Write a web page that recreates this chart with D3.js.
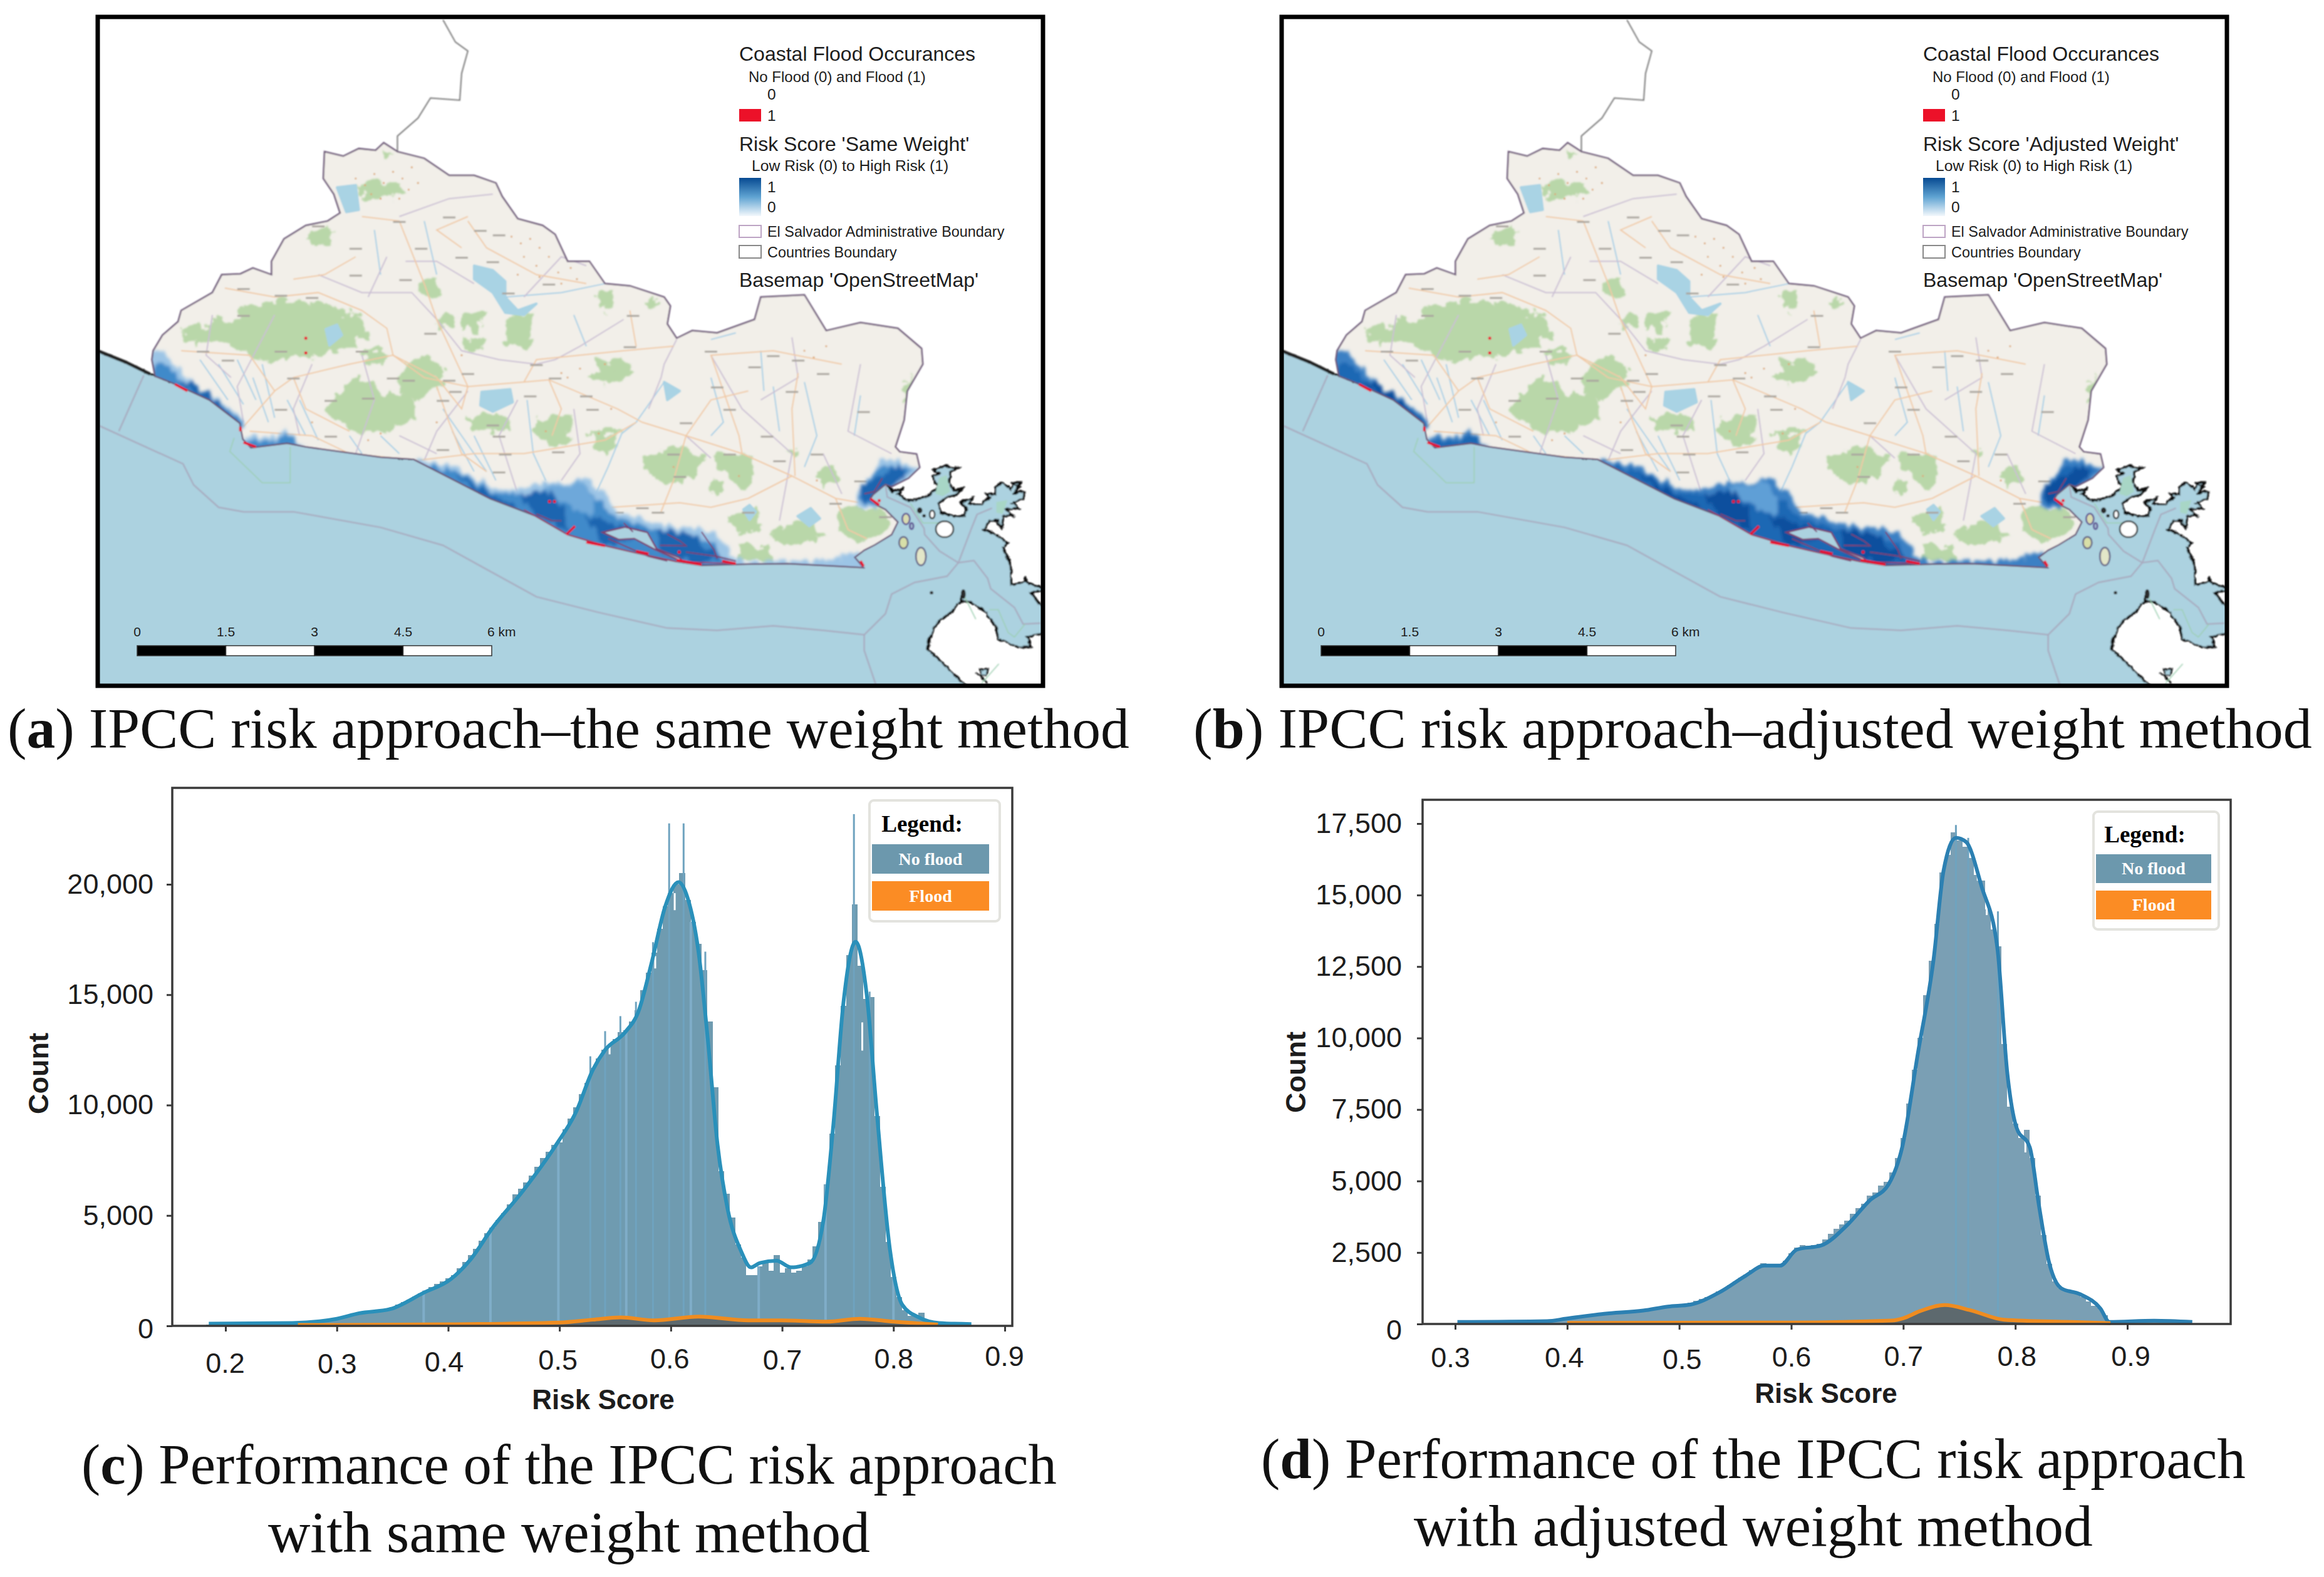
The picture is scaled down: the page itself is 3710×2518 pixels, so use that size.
<!DOCTYPE html>
<html>
<head>
<meta charset="utf-8">
<script src="https://d3js.org/d3.v7.min.js"></script>
<style>
  html, body { margin: 0; background: #fff; }
  svg { display: block; }
  text { font-family: "Liberation Sans", sans-serif; fill: #1d1d1d; }
</style>
</head>
<body>
<div id="chart"></div>
<script>
// ---- map data, in map units (0-1568 across, 0-1568 down the stretched sheet) ----
var oceanShape = [[-40,745],[19,772],[60,795],[100,822],[500,1010],[1280,1069],[1293,1085],[1310,1076],[1300,1090],[1318,1106],[1333,1101],[1353,1092],[1363,1073],[1355,1050],[1367,1045],[1358,1036],[1375,1027],[1382,1029],[1397,1031],[1384,1041],[1382,1064],[1390,1083],[1404,1078],[1394,1092],[1380,1097],[1365,1111],[1370,1132],[1394,1141],[1407,1139],[1410,1122],[1400,1108],[1420,1099],[1414,1113],[1434,1113],[1447,1097],[1442,1090],[1456,1092],[1456,1076],[1467,1064],[1481,1080],[1487,1064],[1496,1064],[1487,1087],[1504,1085],[1501,1101],[1484,1111],[1494,1122],[1474,1125],[1484,1139],[1469,1139],[1467,1167],[1461,1157],[1461,1150],[1447,1150],[1439,1169],[1461,1185],[1476,1199],[1469,1209],[1481,1251],[1482,1293],[1504,1286],[1504,1274],[1506,1288],[1529,1298],[1545,1302],[1514,1311],[1529,1339],[1560,1345],[1560,1395],[1507,1409],[1514,1433],[1494,1433],[1461,1414],[1457,1386],[1440,1353],[1414,1330],[1400,1330],[1405,1307],[1400,1330],[1387,1353],[1363,1377],[1350,1414],[1348,1437],[1440,1560],[-40,1560]];
var landShape = [[108,827],[103,790],[105,770],[120,735],[145,705],[150,680],[200,640],[215,600],[245,598],[265,585],[295,600],[295,570],[315,520],[350,490],[385,480],[405,462],[395,420],[378,385],[380,325],[410,335],[435,318],[462,322],[475,305],[497,325],[540,340],[580,378],[620,378],[655,395],[665,425],[690,475],[730,490],[750,510],[770,570],[805,570],[830,620],[870,625],[925,650],[935,670],[930,710],[945,742],[970,725],[1010,730],[1070,700],[1080,650],[1150,645],[1185,725],[1240,707],[1300,720],[1338,765],[1340,800],[1315,860],[1310,925],[1296,985],[1303,996],[1330,1001],[1335,1031],[1317,1055],[1290,1074],[1280,1069],[1260,1092],[1256,1101],[1266,1115],[1280,1125],[1300,1153],[1290,1181],[1263,1204],[1246,1216],[1231,1232],[1245,1255],[1206,1252],[1123,1246],[1060,1247],[985,1250],[944,1241],[880,1222],[831,1206],[770,1181],[718,1139],[646,1101],[523,1013],[470,1008],[350,985],[320,977],[262,987],[249,968],[244,932],[195,880],[139,844]];
var riverNorth = [[497,325],[497,290],[530,250],[550,205],[597,210],[600,150],[610,100],[590,80],[570,30]];
var westShore = [[19,772],[60,795],[100,822]];
var maritimeLines = [
  [[19,938],[153,1023],[170,1070],[210,1120],[250,1130],[330,1130],[470,1165],[570,1205],[720,1320],[820,1355],[930,1390],[1010,1395],[1100,1385],[1180,1395],[1246,1405]],
  [[1246,1405],[1280,1358],[1290,1314],[1327,1288],[1379,1274],[1397,1244]],
  [[1280,1069],[1283,1097],[1320,1120],[1342,1167],[1343,1181],[1367,1218],[1397,1244],[1422,1239],[1444,1279],[1449,1302],[1487,1344],[1501,1381],[1529,1379]],
  [[1397,1244],[1417,1171],[1427,1136],[1451,1122]],
  [[1246,1405],[1246,1440],[1265,1518]],
  [[50,950],[90,825]]
];
var reserveLines = [
  [[235,965],[228,995],[280,1065],[325,1065],[325,985]],
  [[1320,1111],[1340,1155],[1365,1155]],
  [[1447,1349],[1461,1349],[1477,1400],[1487,1410],[1504,1381]],
  [[1405,1314],[1425,1370]],
  [[1434,1514],[1462,1470]]
];
var gulfGreens = [[[1366,1055],[1378,1048],[1384,1085],[1372,1095],[1360,1090]],[[1458,1108],[1476,1104],[1468,1135],[1458,1132]]];
var smallLake = [[1432,1482],[1444,1480],[1442,1497],[1434,1496]];
var shoreSquiggles = [[[1425,1490],[1437,1503],[1444,1514]],[[1481,1064],[1496,1075],[1484,1090]]];
var islands = [
  [1375,1169,14,18,"#fff","#222"],[1355,1136,4,9,"#fff","#222"],[1335,1127,3,5,"#333","#222"],[1342,1139,1.5,2,"#333","#222"],
  [1313,1146,6,12,"#d9dcb0","#5a4a90"],[1322,1162,3,7,"#9db6cc","#5a4a90"],
  [1309,1199,7,13,"#d8dfa8","#5f5a80"],[1337,1230,8,20,"#e3e6c8","#5f5a80"],[1354,1311,1.5,2,"#333","#333"],[1405,1314,2.5,9,"#333","#222"]
];
var greens = [
  [[150,720],[220,700],[270,665],[340,655],[400,680],[440,690],[445,740],[400,770],[350,790],[280,790],[230,760],[160,750]],
  [[400,860],[440,830],[480,860],[520,870],[530,910],[490,950],[420,950],[380,900]],
  [[500,810],[530,780],[565,800],[565,850],[525,880],[500,860]],
  [[610,920],[650,910],[680,920],[670,950],[620,950]],
  [[720,915],[770,920],[775,975],[740,980],[715,950]],
  [[805,952],[857,952],[850,985],[832,1003],[812,985]],
  [[893,1003],[950,985],[990,1000],[980,1040],[930,1078],[895,1030]],
  [[1005,1003],[1067,1003],[1067,1060],[1050,1078],[1030,1050]],
  [[1170,1036],[1200,1031],[1206,1065],[1175,1068]],
  [[1103,1170],[1150,1148],[1190,1180],[1130,1213],[1100,1190]],
  [[1200,1130],[1270,1120],[1290,1160],[1240,1200],[1210,1180]],
  [[680,690],[715,690],[705,770],[670,750]],
  [[600,690],[640,680],[625,730],[600,725]],
  [[820,640],[845,635],[838,680],[820,680]],
  [[800,830],[860,790],[880,815],[830,850]],
  [[535,620],[565,610],[560,645],[535,640]],
  [[1030,1140],[1070,1120],[1080,1160],[1040,1180]],
  [[430,395],[500,390],[505,420],[440,435]],
  [[465,320],[497,325],[480,338]],
  [[1305,860],[1322,820],[1312,885]],
  [[900,650],[920,655],[915,670],[900,670]],
  [[1046,1209],[1098,1212],[1100,1240],[1048,1242]],
  [[350,515],[385,490],[392,520],[360,535]],
  [[600,740],[640,745],[630,770],[605,765]],
  [[815,790],[860,785],[855,810],[820,815]],
  [[1005,1060],[1020,1065],[1015,1090],[1000,1085]],
  [[1120,990],[1140,990],[1135,1010],[1122,1008]],
  [[560,700],[590,690],[585,720],[565,725]],
  [[440,770],[480,770],[470,800],[445,800]],
  [[718,1150],[730,1150],[730,1170],[720,1170]]
];
var lakes = [
  [[400,405],[430,400],[435,455],[415,460]],
  [[620,580],[650,590],[670,615],[670,650],[690,680],[720,665],[700,690],[670,685],[650,640],[620,610]],
  [[632,862],[678,856],[682,885],[650,906],[630,892]],
  [[925,840],[950,860],[930,880]],
  [[1139,1140],[1160,1122],[1175,1145],[1158,1162]],
  [[1052,1125],[1062,1115],[1072,1130],[1062,1148]],
  [[382,722],[400,712],[408,735],[388,758]]
];
var roads = [
  [[250,940],[300,860],[330,830],[420,800],[490,780],[540,830],[610,850],[700,840],[740,835],[850,900],[890,930],[960,960],[1050,1000],[1130,1050],[1200,1100],[1240,1110]],
  [[260,950],[360,960],[420,1000],[530,1015],[620,1000],[700,1000],[830,970],[880,930]],
  [[490,780],[480,720],[440,680],[370,640],[300,650],[220,630]],
  [[560,850],[580,930],[600,1000],[640,1040]],
  [[610,850],[560,700],[540,620],[500,480],[440,470]],
  [[1050,1000],[1045,960],[1000,780],[1100,770],[1210,800]],
  [[840,1120],[950,1110],[1000,1120],[1060,1100],[1130,1050]],
  [[700,840],[720,790],[860,770],[940,760]],
  [[300,860],[260,780],[150,770]],
  [[610,480],[640,540],[720,600],[800,620]],
  [[1135,1050],[1130,900],[1140,820]],
  [[490,780],[560,830],[600,900],[610,850]],
  [[330,830],[350,900],[420,950]],
  [[740,835],[760,900],[745,960]],
  [[960,960],[1000,880],[1060,860]],
  [[1200,1100],[1220,1170],[1250,1190]],
  [[960,960],[940,1060],[920,1130]],
  [[430,560],[380,600],[330,610]],
  [[600,540],[560,500],[610,470]],
  [[870,680],[880,760]]
];
var adminLines = [
  [[945,745],[925,800],[920,830],[900,900]],
  [[750,790],[720,800],[660,790],[600,770],[560,700],[520,640],[440,640],[370,600]],
  [[300,690],[240,850],[250,930]],
  [[440,780],[460,880],[430,1000]],
  [[610,860],[560,950],[540,1015]],
  [[690,880],[660,960],[690,1090]],
  [[700,650],[760,560],[800,580]],
  [[1000,780],[1050,900],[1130,1000],[1110,1150]],
  [[500,470],[580,430],[650,420]],
  [[780,900],[790,1000],[760,1060]],
  [[1240,800],[1220,950],[1290,1000]],
  [[200,690],[190,780],[230,830]],
  [[360,800],[330,900],[340,960]],
  [[480,560],[450,650]],
  [[620,620],[560,570],[510,570]],
  [[860,700],[790,760],[750,790]],
  [[1130,740],[1140,830],[1080,880]],
  [[1180,1000],[1210,1090]],
  [[960,960],[1000,1010]],
  [[560,1000],[500,960]]
];
var rivers = [
  [[925,840],[900,890],[880,930],[857,955],[835,1030],[815,1090],[785,1150],[772,1185]],
  [[670,650],[760,640],[830,620]],
  [[1000,745],[1040,730]],
  [[1000,830],[1020,930],[1000,960]],
  [[640,1040],[600,960],[570,900]],
  [[280,800],[300,920]],
  [[1150,840],[1170,960],[1150,1030]],
  [[180,790],[225,880]],
  [[320,880],[350,960]],
  [[470,960],[500,1000]],
  [[540,480],[560,600]],
  [[210,800],[250,890]],
  [[240,790],[270,880]],
  [[265,830],[290,930]],
  [[340,880],[370,970]],
  [[420,960],[440,1000]],
  [[585,950],[620,1040]],
  [[620,960],[655,1060]],
  [[705,880],[715,1000],[735,1060]],
  [[1100,850],[1110,950]],
  [[1240,870],[1230,960]],
  [[1080,770],[1085,860]],
  [[780,690],[800,760]],
  [[460,500],[470,600]]
];
// the sea side of these runs past the coast, the land clip trims it
var riskOuter = [
  [[105,774],[123,774],[149,813],[169,852],[205,874],[246,918],[255,940],[240,950],[185,895],[130,860],[95,840]],
  [[251,962],[308,962],[318,943],[328,960],[350,990],[318,1000],[255,1000]],
  [[523,1013],[569,1022],[595,1029],[605,1045],[641,1069],[677,1085],[713,1066],[780,1064],[808,1052],[813,1069],[831,1092],[846,1125],[893,1153],[934,1162],[975,1167],[1006,1181],[1026,1199],[1026,1227],[1057,1246],[1057,1265],[940,1265],[820,1225],[755,1200],[705,1155],[640,1120],[515,1030]],
  [[1270,1015],[1290,1013],[1303,1022],[1335,1033],[1317,1060],[1295,1085],[1265,1120],[1235,1125],[1236,1097],[1262,1040]],
  [[1210,1227],[1229,1220],[1250,1232],[1255,1265],[1205,1265]],
  [[1060,1240],[1127,1240],[1205,1236],[1210,1262],[1060,1262]]
];
var riskMiddle = [
  [[112,800],[130,805],[160,845],[210,885],[250,930],[240,950],[185,895],[130,860],[100,840]],
  [[255,972],[312,970],[320,952],[345,985],[318,1000],[255,1000]],
  [[545,1025],[600,1045],[650,1085],[700,1095],[740,1078],[800,1078],[815,1095],[835,1130],[890,1165],[960,1178],[1000,1195],[1018,1230],[1050,1265],[940,1265],[820,1225],[755,1200],[705,1155],[640,1120],[530,1032]],
  [[1262,1040],[1285,1025],[1325,1036],[1290,1070],[1260,1115],[1238,1110]]
];
var riskDark = [
  [[150,840],[180,850],[240,925],[240,945],[185,890]],
  [[590,1045],[640,1085],[690,1120],[705,1155],[640,1120]],
  [[690,1090],[745,1085],[760,1120],[775,1175],[720,1140]],
  [[800,1140],[860,1160],[900,1180],[830,1210]],
  [[910,1170],[960,1175],[1020,1230],[975,1250],[920,1215]],
  [[1271,1052],[1290,1031],[1310,1031],[1313,1048],[1290,1069],[1262,1105],[1242,1106],[1245,1070]]
];
var riskLight = [[735,1072],[790,1066],[815,1100],[810,1135],[780,1120],[745,1100]];
var bayWater = [[826,1176],[862,1164],[898,1176],[913,1213],[949,1232],[957,1244],[939,1232],[908,1213],[877,1190],[852,1192]];
var creeks = [[[918,1205],[960,1206],[950,1195],[930,1180]],[[960,1220],[1010,1230],[1040,1240]],[[835,1190],[900,1230],[930,1240]],[[720,1135],[745,1150],[760,1150]],[[860,1155],[875,1175]],[[985,1175],[1005,1215],[1010,1235]],[[1246,1090],[1262,1085],[1275,1055]]];
var floodLines = [[[768,1181],[782,1162]],[[140,845],[160,860]],[[245,940],[245,950]],[[250,975],[270,985]],[[800,1198],[830,1206]],[[880,1218],[900,1224]],[[945,1238],[985,1248]],[[1018,1240],[1040,1246]],[[1240,1240],[1245,1252]],[[1256,1101],[1270,1115]]];
var floodCoast = [[700,1125],[718,1139],[770,1181],[831,1206],[880,1222],[944,1241],[1040,1246]];
var floodDots = [[741,1107],[749,1107],[949,1220],[350,742],[350,775],[1270,1105]];
var placeMarks = [[240,690],[300,645],[350,650],[490,480],[420,540],[525,540],[650,510],[730,620],[865,690],[990,770],[1130,790],[1060,805],[1235,905],[950,930],[1020,900],[1100,1015],[1190,1110],[1050,1130],[905,1130],[745,995],[650,1040],[650,960],[560,990],[505,835],[430,770],[320,830],[175,770],[215,790],[1170,820],[800,900],[790,870],[700,870],[440,875],[380,880],[300,770],[240,630],[590,560],[665,640],[860,760],[1000,850],[360,490],[420,600],[500,610],[620,500],[570,470],[640,570],[540,730],[600,820],[560,880],[580,860],[570,835],[640,935],[660,1000],[480,830],[380,960],[300,900],[840,1130],[880,1120],[930,1000],[940,1050],[1090,780],[1120,860],[1160,1000],[1240,1100],[1270,1140],[1230,1060],[1020,1000],[1080,960],[740,830],[710,800]];
var hillDots = [[430,385],[445,400],[460,375],[475,395],[490,370],[505,385],[520,360],[530,395],[515,410],[470,430],[455,420],[500,430],[680,515],[695,530],[710,520],[725,540],[740,560],[700,560],[720,580],[755,595],[775,585],[785,610],[690,600],[725,605],[760,620],[820,955],[840,900],[1150,770],[1165,785],[1185,760],[560,930],[600,780],[770,830],[790,810],[420,1000],[450,970],[470,955],[360,930],[760,820],[830,800],[735,950],[940,1030],[1045,1050],[1170,1060]];

// ---- scale bar ----
var scaleStops = [0, 1.5, 3, 4.5, 6];
var scaleLabels = ["0", "1.5", "3", "4.5", "6 km"];

// ---- panel (c) ----
var xTicksC = [0.2, 0.3, 0.4, 0.5, 0.6, 0.7, 0.8, 0.9];
var yTicksC = [0, 5000, 10000, 15000, 20000];
var binStartC = 0.185;
var barsC = [60,60,70,70,70,75,75,80,80,90,95,100,105,110,120,130,140,155,170,190,210,240,280,
  320,370,450,540,600,640,680,720,740,780,850,960,1080,1200,1340,1480,1600,1750,1900,2020,2150,
  2300,2600,2900,3200,3500,3850,4200,4450,4800,5100,5500,5950,6200,6500,6800,7200,7600,7900,8200,
  8300,8900,9400,9900,10500,11000,11700,12100,12500,12700,13000,13300,13400,13800,14300,15200,16000,16900,
  18000,19000,19600,20000,20500,19300,18300,17300,16100,13800,10800,7000,6000,4900,3700,3100,2300,2300,2700,2900,2500,3200,2400,2600,2400,2500,2700,3000,
  3600,4700,6400,8700,11800,14500,16800,19100,16300,14800,14900,9500,6300,3800,2200,1300,700,450,420,600,250,180,130,110,100,90,80,70];
var spikesC = [[0.5985,22760],[0.6115,22760],[0.7645,23180],[0.5277,12210],[0.541,13350],[0.5547,14030],[0.5687,14680],[0.584,17380],[0.631,16950],[0.7786,15140]];
var stripesC = [0.378,0.438,0.499,0.56,0.618,0.679,0.739,0.80];
var notchesC = [[0.6035,19600,18830],[0.772,13745,12470],[0.586,16750,16190],[0.545,13000,12300],[0.525,12300,11600]];
var kdeC = [[0.185,100],[0.26,130],[0.30,320],[0.32,570],[0.348,760],[0.378,1500],[0.402,2100],[0.42,3000],[0.44,4450],[0.467,6100],[0.497,8200],[0.515,9700],[0.53,11600],[0.541,12500],[0.559,13300],[0.571,14250],[0.583,16500],[0.595,19000],[0.607,20100],[0.615,19400],[0.625,16900],[0.633,13100],[0.642,8200],[0.651,5300],[0.663,3400],[0.672,2650],[0.68,2850],[0.695,2950],[0.708,2650],[0.725,2850],[0.737,4750],[0.746,9100],[0.755,14600],[0.766,17400],[0.776,15000],[0.785,9700],[0.797,3400],[0.808,950],[0.823,380],[0.841,130],[0.87,80]];
var floodKdeC = [[0.265,40],[0.4,70],[0.5,150],[0.53,280],[0.555,380],[0.585,250],[0.625,420],[0.67,250],[0.7,250],[0.74,190],[0.77,320],[0.8,190],[0.84,60]];

// ---- panel (d) ----
var xTicksD = [0.3, 0.4, 0.5, 0.6, 0.7, 0.8, 0.9];
var yTicksD = [0, 2500, 5000, 7500, 10000, 12500, 15000, 17500];
var binStartD = 0.305;
var barsD = [60,60,65,65,65,70,70,70,75,75,80,80,85,90,95,100,120,140,170,195,220,250,270,290,320,350,370,380,400,410,430,450,470,490,520,560,600,640,670,680,700,740,800,880,950,1000,1130,1230,1360,1500,1620,1740,1880,1970,2120,2050,2030,2060,2220,2480,2680,2750,2740,2770,2800,2950,3150,3320,3480,3620,3850,4050,4200,4480,4600,4850,4980,5300,5800,6500,7700,8900,10000,11500,12700,14000,15800,16400,17200,16900,16700,16300,15700,15500,14500,13800,13200,9800,7600,7000,6500,6800,5800,4500,3100,2100,1500,1250,1180,1150,1060,950,780,640,560,300,60,60,60,70,80,90,110,120,120,110,100,90,90,80,70];
var spikesD = [[0.747,17450],[0.7845,14430],[0.758,17000]];
var notchesD = [[0.7665,16400,15500],[0.7745,15300,14300],[0.8,7700,7200],[0.809,6500,6000]];
var kdeD = [[0.302,70],[0.382,100],[0.399,185],[0.433,356],[0.468,470],[0.49,610],[0.51,680],[0.536,1110],[0.559,1680],[0.576,2040],[0.59,2040],[0.605,2600],[0.627,2750],[0.65,3460],[0.67,4320],[0.687,4890],[0.699,6170],[0.713,9450],[0.727,12730],[0.736,15860],[0.747,17000],[0.756,16860],[0.77,15290],[0.784,13150],[0.793,8730],[0.801,6880],[0.813,6170],[0.821,4180],[0.83,2180],[0.841,1250],[0.858,1040],[0.876,540],[0.884,70],[0.924,115],[0.958,70]];
var floodKdeD = [[0.4,40],[0.6,50],[0.69,120],[0.7,200],[0.715,450],[0.737,660],[0.76,480],[0.79,150],[0.85,70],[0.885,30]];

var width = 3710, height = 2518;
var svg = d3.select("#chart").append("svg").attr("width", width).attr("height", height);
var defs = svg.append("defs");
defs.append("filter").attr("id", "mapBlur").append("feGaussianBlur").attr("stdDeviation", 1.1);

// rough edges for the raster-looking layers
function roughFilter(id, freq, scale, blur) {
  var f = defs.append("filter").attr("id", id).attr("x", "-5%").attr("y", "-5%").attr("width", "110%").attr("height", "110%");
  f.append("feTurbulence").attr("type", "fractalNoise").attr("baseFrequency", freq).attr("numOctaves", 3).attr("seed", 4).attr("result", "n");
  f.append("feDisplacementMap").attr("in", "SourceGraphic").attr("in2", "n").attr("scale", scale).attr("xChannelSelector", "R").attr("yChannelSelector", "G").attr("result", "d");
  f.append("feGaussianBlur").attr("in", "d").attr("stdDeviation", blur);
}
roughFilter("riskRough", "0.09 0.02", 22, 2.4);
roughFilter("greenRough", "0.05 0.05", 30, 1);
roughFilter("shoreRough", "0.12 0.12", 6, 0.7);

var ramp = defs.append("linearGradient").attr("id", "riskRamp").attr("x1", 0).attr("x2", 0).attr("y1", 0).attr("y2", 1);
ramp.append("stop").attr("offset", "0%").attr("stop-color", "#074a92");
ramp.append("stop").attr("offset", "50%").attr("stop-color", "#5fa3d2");
ramp.append("stop").attr("offset", "100%").attr("stop-color", "#f3f8fc");
defs.append("clipPath").attr("id", "mapClip").append("rect").attr("x", 159).attr("y", 31).attr("width", 1503).attr("height", 1061);

var mapX = d3.scaleLinear().domain([0, 1568]).range([140, 1700]);
var mapY = d3.scaleLinear().domain([0, 1568]).range([10, 1130]);
var mapLine = d3.line().x(function (d) { return mapX(d[0]); }).y(function (d) { return mapY(d[1]); });
var mapArea = d3.line().x(function (d) { return mapX(d[0]); }).y(function (d) { return mapY(d[1]); }).curve(d3.curveLinearClosed);
defs.append("clipPath").attr("id", "landClip").append("path").attr("d", mapArea(landShape));

function paths(g, list, shape, attrs) {
  var sel = g.selectAll(null).data(list).enter().append("path").attr("d", shape);
  Object.keys(attrs).forEach(function (k) { sel.attr(k, attrs[k]); });
  return sel;
}

function drawMap(dx, riskColors, riskTitle) {
  var g = svg.append("g").attr("transform", "translate(" + dx + ",0)");
  var m = g.append("g").attr("clip-path", "url(#mapClip)").append("g").attr("filter", "url(#mapBlur)");
  var sea = m.append("g").attr("filter", "url(#shoreRough)");
  paths(sea, [oceanShape], mapArea, { fill: "#acd2e0", stroke: "#111", "stroke-width": 3.5 });
  paths(sea, shoreSquiggles, mapLine, { fill: "none", stroke: "#111", "stroke-width": 3 });
  paths(sea, [smallLake], mapArea, { fill: "#acd2e0", stroke: "#111", "stroke-width": 2 });
  paths(m, gulfGreens, mapArea, { fill: "#a8d6c6" });
  paths(m, [westShore], mapLine, { fill: "none", stroke: "#222", "stroke-width": 5 });
  paths(m, maritimeLines, mapLine, { fill: "none", stroke: "#a8acc0", "stroke-width": 2.5 });
  paths(m, reserveLines, mapLine, { fill: "none", stroke: "#9ccfb0", "stroke-width": 1.5 });
  m.selectAll(null).data(islands).enter().append("ellipse")
    .attr("cx", function (d) { return mapX(d[0]); }).attr("cy", function (d) { return mapY(d[1]); })
    .attr("rx", function (d) { return d[2]; }).attr("ry", function (d) { return d[3] / 1.4; })
    .attr("fill", function (d) { return d[4]; }).attr("stroke", function (d) { return d[5]; }).attr("stroke-width", 2.5);
  paths(m, [riverNorth], mapLine, { fill: "none", stroke: "#777", "stroke-width": 2 });
  paths(m, [landShape], mapArea, { fill: "#f2efe9" });
  var inner = m.append("g").attr("clip-path", "url(#landClip)");
  var forest = inner.append("g").attr("filter", "url(#greenRough)");
  paths(forest, greens, mapArea, { fill: "#b9d7a9" });
  paths(inner, lakes, mapArea, { fill: "#a9d3e4", stroke: "#a9d3e4", "stroke-width": 4, "stroke-linejoin": "round" });
  paths(inner, rivers, mapLine, { fill: "none", stroke: "#a6cfe6", "stroke-width": 2 });
  paths(inner, adminLines, mapLine, { fill: "none", stroke: "#cbbfd4", "stroke-width": 2 });
  paths(inner, roads, mapLine, { fill: "none", stroke: "#f1c9a4", "stroke-width": 2 });
  inner.selectAll(null).data(placeMarks).enter().append("rect")
    .attr("x", function (d) { return mapX(d[0]); }).attr("y", function (d) { return mapY(d[1]); })
    .attr("width", 20).attr("height", 3).attr("fill", "#aaa69f");
  inner.selectAll(null).data(hillDots).enter().append("circle")
    .attr("cx", function (d) { return mapX(d[0]); }).attr("cy", function (d) { return mapY(d[1]); })
    .attr("r", 1.6).attr("fill", "#dca877");
  var blue = inner.append("g").attr("filter", "url(#riskRough)");
  paths(blue, riskOuter, mapArea, { fill: riskColors[0] });
  paths(blue, riskMiddle, mapArea, { fill: riskColors[1] });
  paths(blue, riskDark, mapArea, { fill: riskColors[2] });
  paths(blue, [riskLight], mapArea, { fill: riskColors[3] });
  paths(m, [bayWater], mapArea, { fill: "#acd2e0", stroke: "#7d3f6d", "stroke-width": 2.5 });
  paths(m, creeks, mapLine, { fill: "none", stroke: "#7d3f6d", "stroke-width": 2 });
  paths(m, [landShape], mapArea, { fill: "none", stroke: "#6a5576", "stroke-width": 2.5 });
  paths(m, [floodCoast], mapLine, { fill: "none", stroke: "#a8345c", "stroke-width": 1.5 });
  paths(m, floodLines, mapLine, { fill: "none", stroke: "#e8112d", "stroke-width": 4 });
  m.selectAll(null).data(floodDots).enter().append("circle")
    .attr("cx", function (d) { return mapX(d[0]); }).attr("cy", function (d) { return mapY(d[1]); })
    .attr("r", 2.5).attr("fill", "#e8112d");
  g.append("rect").attr("x", 156).attr("y", 27).attr("width", 1509).attr("height", 1068)
    .attr("fill", "none").attr("stroke", "#000").attr("stroke-width", 7);

  // scale bar
  var sb = d3.scaleLinear().domain([0, 6]).range([219, 785]);
  g.selectAll(null).data(d3.pairs(scaleStops)).enter().append("rect")
    .attr("x", function (d) { return sb(d[0]); }).attr("y", 1031)
    .attr("width", function (d) { return sb(d[1]) - sb(d[0]); }).attr("height", 16)
    .attr("fill", function (d, i) { return i % 2 ? "#fff" : "#000"; }).attr("stroke", "#333").attr("stroke-width", 1.5);
  g.selectAll(null).data(scaleStops).enter().append("text")
    .attr("x", function (d) { return sb(d); }).attr("y", 1016)
    .attr("text-anchor", function (d) { return d === 6 ? "start" : "middle"; })
    .attr("dx", function (d) { return d === 6 ? -7 : 0; })
    .attr("font-size", 21).text(function (d, i) { return scaleLabels[i]; });

  // map legend
  function label(x, y, size, s) {
    g.append("text").attr("x", x).attr("y", y).attr("font-size", size).text(s);
  }
  label(1180, 97, 32, "Coastal Flood Occurances");
  label(1195, 131, 24, "No Flood (0) and Flood (1)");
  label(1225, 159, 24.5, "0");
  g.append("rect").attr("x", 1180).attr("y", 174).attr("width", 35).attr("height", 20).attr("fill", "#ec1129");
  label(1225, 193, 24.5, "1");
  label(1180, 241, 32, riskTitle);
  label(1200, 273, 24.7, "Low Risk (0) to High Risk (1)");
  g.append("rect").attr("x", 1180).attr("y", 284).attr("width", 35).attr("height", 61).attr("fill", "url(#riskRamp)");
  label(1225, 307, 24.5, "1");
  label(1225, 339, 24.5, "0");
  g.append("rect").attr("x", 1180).attr("y", 360).attr("width", 35).attr("height", 19).attr("fill", "#fff").attr("stroke", "#bda4c4").attr("stroke-width", 2);
  label(1225, 378, 23.4, "El Salvador Administrative Boundary");
  g.append("rect").attr("x", 1180).attr("y", 392).attr("width", 35).attr("height", 20).attr("fill", "#fff").attr("stroke", "#888").attr("stroke-width", 2);
  label(1225, 411, 23.4, "Countries Boundary");
  label(1180, 458, 32, "Basemap 'OpenStreetMap'");
}

function drawHist(o) {
  var g = svg.append("g");
  var x = d3.scaleLinear().domain(o.xDomain).range(o.xRange);
  var y = d3.scaleLinear().domain([0, o.yTop]).range([o.bottom, o.bottom - o.yPix]);
  var step = 0.005;
  // each count was read at the middle of its bin
  g.selectAll(null).data(o.bars).enter().append("rect")
    .attr("x", function (d, i) { return x(o.binStart + i * step - step / 2); })
    .attr("y", function (d) { return y(d); })
    .attr("width", x(step) - x(0) + 0.6)
    .attr("height", function (d) { return o.bottom - y(d); })
    .attr("shape-rendering", "crispEdges")
    .attr("fill", o.barColor);
  var barAt = function (v) { return o.bars[Math.round((v - o.binStart) / step)]; };
  g.selectAll(null).data(o.stripes).enter().append("rect")
    .attr("x", function (d) { return x(d) - 2; }).attr("width", 4)
    .attr("y", function (d) { return y(barAt(d)); })
    .attr("height", function (d) { return o.bottom - y(barAt(d)); })
    .attr("fill", "#7fadc8");
  g.selectAll(null).data(o.notches).enter().append("rect")
    .attr("x", function (d) { return x(d[0]) - 1.5; }).attr("width", 3)
    .attr("y", function (d) { return y(d[1]); })
    .attr("height", function (d) { return y(d[2]) - y(d[1]); })
    .attr("fill", "#fff");
  g.selectAll(null).data(o.spikes).enter().append("rect")
    .attr("x", function (d) { return x(d[0]) - 1.5; }).attr("width", 3)
    .attr("y", function (d) { return y(d[1]); })
    .attr("height", function (d) { return o.bottom - y(d[1]); })
    .attr("fill", "#6fa3bf");
  // flood histogram sits under its curve in a dark grey
  var under = d3.area().x(function (d) { return x(d[0]); }).y0(o.bottom).y1(function (d) { return y(d[1]); }).curve(d3.curveMonotoneX);
  g.append("path").attr("d", under(o.floodKde)).attr("fill", "#5d696e");
  var curve = d3.line().x(function (d) { return x(d[0]); }).y(function (d) { return y(d[1]); }).curve(d3.curveMonotoneX);
  g.append("path").attr("d", curve(o.kde)).attr("fill", "none").attr("stroke", o.kdeColor).attr("stroke-width", 6);
  g.append("path").attr("d", curve(o.floodKde)).attr("fill", "none").attr("stroke", "#ef8c20").attr("stroke-width", 6);

  g.append("rect").attr("x", o.xFrame[0]).attr("y", o.top).attr("width", o.xFrame[1] - o.xFrame[0]).attr("height", o.bottom - o.top)
    .attr("fill", "none").attr("stroke", "#3a3a3a").attr("stroke-width", 3.5);

  var xAxis = g.append("g").attr("transform", "translate(0," + o.bottom + ")")
    .call(d3.axisBottom(x).tickValues(o.xTicks).tickFormat(d3.format(".1f")).tickSize(9).tickPadding(o.xPad));
  var yAxis = g.append("g").attr("transform", "translate(" + o.xFrame[0] + ",0)")
    .call(d3.axisLeft(y).tickValues(o.yTicks).tickFormat(d3.format(",")).tickSize(9).tickPadding(o.yPad));
  [xAxis, yAxis].forEach(function (a) {
    a.select(".domain").remove();
    a.selectAll("line").attr("stroke", "#3a3a3a").attr("stroke-width", 3);
    a.selectAll("text").attr("font-size", 45).attr("fill", "#1d1d1d");
  });
  // the scanned labels sit a little off their ticks
  xAxis.selectAll("text").attr("transform", function (d, i) { return "translate(" + o.xShift[i][0] + "," + o.xShift[i][1] + ")"; });
  yAxis.selectAll("text").filter(function (d) { return d === 0; }).attr("transform", "translate(0," + o.zeroDrop + ")");

  g.append("text").attr("x", o.xLabel[0]).attr("y", o.xLabel[1]).attr("text-anchor", "middle")
    .attr("font-size", 44).attr("font-weight", "bold").text("Risk Score");
  g.append("text").attr("transform", "translate(" + o.yLabel[0] + "," + o.yLabel[1] + ") rotate(-90)")
    .attr("text-anchor", "middle").attr("font-size", 45).attr("font-weight", "bold").text("Count");

  // legend box
  var L = o.legend;
  g.append("rect").attr("x", L.x).attr("y", L.y).attr("width", L.w).attr("height", L.h).attr("rx", 7)
    .attr("fill", "#fff").attr("stroke", "#e3e3de").attr("stroke-width", 4);
  g.append("text").attr("x", L.cx).attr("y", L.titleY).attr("text-anchor", "middle")
    .style("font-family", "Liberation Serif").attr("font-weight", "bold").attr("font-size", 37).style("fill", "#000").text("Legend:");
  [["No flood", "#6c98ad", L.y1], ["Flood", "#fb8c24", L.y2]].forEach(function (r) {
    g.append("rect").attr("x", L.sx).attr("y", r[2]).attr("width", L.sw).attr("height", L.sh).attr("fill", r[1]);
    g.append("text").attr("x", L.sx + L.sw / 2).attr("y", r[2] + L.sh - 14).attr("text-anchor", "middle")
      .style("font-family", "Liberation Serif").attr("font-weight", "bold").attr("font-size", 28)
      .style("fill", "#fff").text(r[0]);
  });
}

function caption(letter, rest, x0, x1, base) {
  var t = svg.append("text").attr("x", x0).attr("y", base).attr("font-size", 80)
    .style("font-family", "Liberation Serif").style("fill", "#111");
  if (letter) {
    t.append("tspan").text("(");
    t.append("tspan").attr("font-weight", "bold").text(letter);
    t.append("tspan").text(") " + rest);
  } else {
    t.text(rest);
  }
  var len = t.node().getComputedTextLength();
  t.attr("font-size", 80 * (x1 - x0) / len);
}

drawMap(0, ["#9cc5e6", "#3f8aca", "#1d65b0", "#6ea8da"], "Risk Score 'Same Weight'");
drawMap(1890, ["#3a80c4", "#1f68b4", "#114f9e", "#5f9fd6"], "Risk Score 'Adjusted Weight'");

drawHist({
  xDomain: [0.2, 0.9], xRange: [360, 1604], yTop: 20000, yPix: 705, bottom: 2117, top: 1258, xFrame: [275, 1616],
  binStart: binStartC, bars: barsC, spikes: spikesC, stripes: stripesC, notches: notchesC, kde: kdeC, floodKde: floodKdeC,
  xTicks: xTicksC, yTicks: yTicksC, xPad: 34, yPad: 21, kdeColor: "#2a90ba", barColor: "#6f9bb0", zeroDrop: 5,
  xShift: [[-1,0],[0,1],[-7,-2],[-3,-5],[-2,-7],[0,-5],[0,-7],[-1,-11]],
  xLabel: [963, 2250], yLabel: [77, 1714],
  legend: { x: 1388, y: 1278, w: 208, h: 193, cx: 1472, titleY: 1328, sx: 1392, sw: 187, sh: 47, y1: 1348, y2: 1407 }
});
drawHist({
  xDomain: [0.3, 0.9], xRange: [2323, 3396], yTop: 17500, yPix: 799, bottom: 2114, top: 1277, xFrame: [2271, 3561],
  binStart: binStartD, bars: barsD, spikes: spikesD, stripes: [], notches: notchesD, kde: kdeD, floodKde: floodKdeD,
  xTicks: xTicksD, yTicks: yTicksD, xPad: 28, yPad: 24, kdeColor: "#2c80b2", barColor: "#7a9fb4", zeroDrop: 10,
  xShift: [[-8,0],[-5,0],[4,3],[0,-1],[0,-2],[2,-2],[5,-2]],
  xLabel: [2915, 2240], yLabel: [2084, 1712],
  legend: { x: 3342, y: 1296, w: 200, h: 188, cx: 3424, titleY: 1345, sx: 3346, sw: 184, sh: 46, y1: 1364, y2: 1422 }
});

caption("a", "IPCC risk approach\u2013the same weight method", 12, 1803, 1194);
caption("b", "IPCC risk approach\u2013adjusted weight method", 1905, 3691, 1194);
caption("c", "Performance of the IPCC risk approach", 130, 1687, 2369);
caption("", "with same weight method", 428, 1389, 2478);
caption("d", "Performance of the IPCC risk approach", 2013, 3585, 2360);
caption("", "with adjusted weight method", 2257, 3341, 2468);
</script>
</body>
</html>
